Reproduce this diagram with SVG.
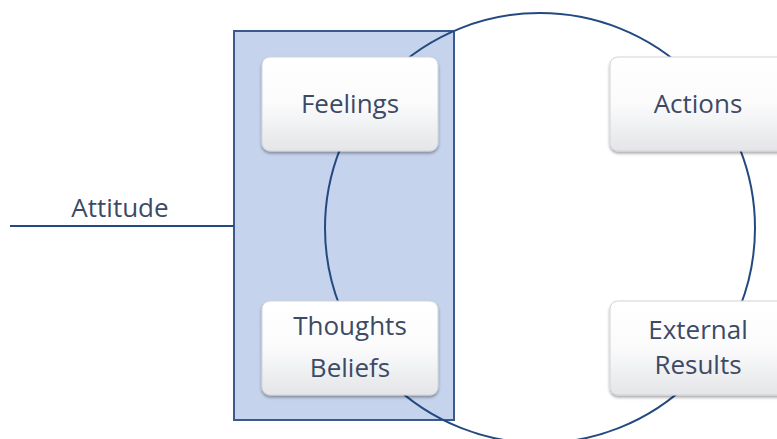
<svg xmlns="http://www.w3.org/2000/svg" width="777" height="439" viewBox="0 0 777 439">
<style>
.lbl{font-family:"Open Sans","Noto Sans",sans-serif;font-size:26px;fill:#3d4a66;text-anchor:middle}
.box{fill:url(#g);stroke:#d0d4da;stroke-width:1;filter:url(#sh)}
.ln{fill:none;stroke:#234a80;stroke-width:2}
</style>
<defs>
<linearGradient id="g" x1="0" y1="0" x2="0" y2="1">
<stop offset="0" stop-color="#ffffff"/>
<stop offset="0.5" stop-color="#fbfbfc"/>
<stop offset="1" stop-color="#e4e5e8"/>
</linearGradient>
<filter id="sh" x="-10%" y="-10%" width="120%" height="130%">
<feDropShadow dx="0" dy="2" stdDeviation="1.5" flood-color="#000" flood-opacity="0.35"/>
</filter>
</defs>
<rect x="234" y="31" width="220" height="389" fill="#c5d3ec" stroke="#3a5a8c" stroke-width="2"/>
<g id="connectors">
<circle class="ln" cx="540" cy="228" r="215"/>
<line class="ln" x1="10" y1="226" x2="234" y2="226"/>
</g>
<text class="lbl" x="120" y="217">Attitude</text>
<g id="feelings">
<rect class="box" x="262" y="57" width="176" height="94" rx="8"/>
<text class="lbl" x="350" y="113">Feelings</text>
</g>
<g id="thoughts">
<rect class="box" x="262" y="301" width="176" height="94" rx="8"/>
<text class="lbl" x="350" y="335">Thoughts</text>
<text class="lbl" x="350" y="377">Beliefs</text>
</g>
<g id="actions">
<rect class="box" x="610" y="57" width="200" height="94" rx="8"/>
<text class="lbl" x="698" y="113">Actions</text>
</g>
<g id="results">
<rect class="box" x="610" y="301" width="200" height="94" rx="8"/>
<text class="lbl" x="698" y="339">External</text>
<text class="lbl" x="698" y="374">Results</text>
</g>
</svg>
